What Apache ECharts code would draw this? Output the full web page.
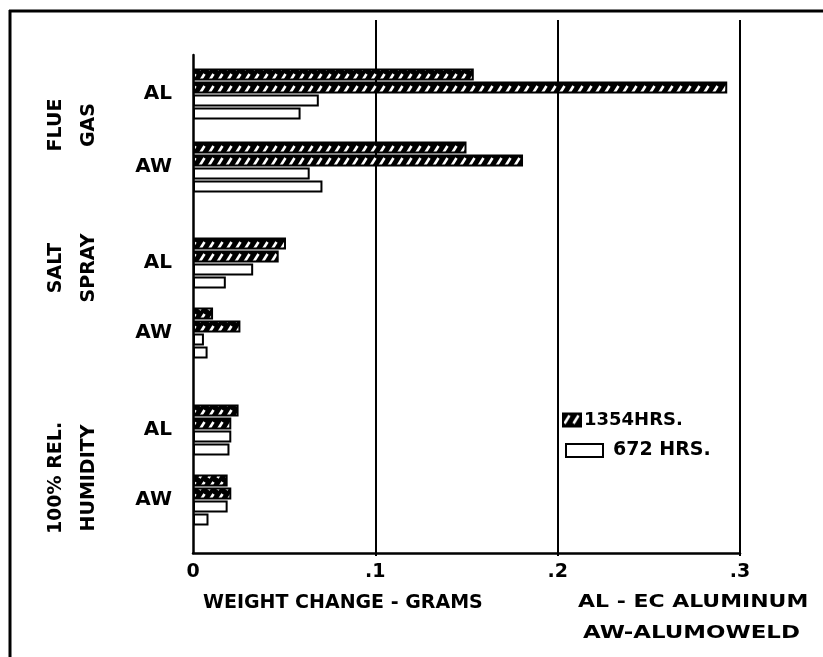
<!DOCTYPE html>
<html><head><meta charset="utf-8">
<script src="https://cdn.jsdelivr.net/npm/echarts@6/dist/echarts.min.js"></script>
<style>html,body{margin:0;padding:0;background:#fff}#c{width:823px;height:657px}</style>
</head><body><div id="c"></div>
<script>
// ---- data ----
const environments = ['FLUE\nGAS', 'SALT\nSPRAY', '100% REL.\nHUMIDITY'];
const conductors = ['AL', 'AW'];
const xTickLabels = ['0', '.1', '.2', '.3'];
const seriesNames = ['1354HRS.', '672 HRS.'];
// order: FLUE AL, FLUE AW, SALT AL, SALT AW, HUMIDITY AL, HUMIDITY AW
const hrs1354a = [0.154, 0.150, 0.051, 0.011, 0.025, 0.019];
const hrs1354b = [0.293, 0.181, 0.047, 0.026, 0.021, 0.021];
const hrs672a  = [0.069, 0.064, 0.033, 0.006, 0.021, 0.019];
const hrs672b  = [0.059, 0.071, 0.018, 0.008, 0.020, 0.0085];
const xTitle = 'WEIGHT CHANGE - GRAMS';
const noteLines = ['AL - EC ALUMINUM', 'AW-ALUMOWELD'];

// ---- styling / layout ----
const FONT = '"DejaVu Sans", sans-serif';
function makeHatch() {
  const c = document.createElement('canvas');
  c.width = 9; c.height = 12;
  const g = c.getContext('2d');
  g.fillStyle = '#000'; g.fillRect(0, 0, 9, 12);
  g.strokeStyle = '#fff'; g.lineWidth = 2.6; g.lineCap = 'butt';
  g.beginPath(); g.moveTo(1.5, 10); g.lineTo(6.5, 2); g.stroke();
  return c;
}
const hatchFill = { image: makeHatch(), repeat: 'repeat' };
const hatchStyle = { color: hatchFill, borderColor: '#000', borderWidth: 2 };
const whiteStyle = { color: '#fff', borderColor: '#000', borderWidth: 2 };

const L = 193, W = 547;
const envGrids = [
  { top: 57.5, height: 146 },
  { top: 228, height: 140 },
  { top: 395, height: 140 }
];
const envLabelPos = [[73, 125], [73, 268], [73, 478]];

const grids = [
  { left: L, width: W, top: 20, height: 536 },   // gridlines
  { left: L, width: W, top: 55, height: 498 }    // axes
].concat(envGrids.map(g => ({ left: L, width: W, top: g.top, height: g.height })));

const xAxes = [
  { gridIndex: 0, type: 'value', min: 0, max: 0.3, interval: 0.1,
    axisLine: { show: false }, axisTick: { show: false }, axisLabel: { show: false },
    splitLine: { show: true, showMinLine: false, lineStyle: { color: '#000', width: 2 } } },
  { gridIndex: 1, type: 'value', min: 0, max: 0.3, interval: 0.1,
    axisLine: { show: true, onZero: false, lineStyle: { color: '#000', width: 2.5 } },
    axisTick: { show: false }, splitLine: { show: false },
    axisLabel: { margin: 10, color: '#000', fontFamily: FONT, fontWeight: 'bold', fontSize: 19,
      formatter: (v) => xTickLabels[Math.round(v * 10)] } }
];
const yAxes = [
  { gridIndex: 0, type: 'value', show: false },
  { gridIndex: 1, type: 'value', min: 0, max: 1,
    axisLine: { show: true, onZero: false, lineStyle: { color: '#000', width: 2.5 } },
    axisTick: { show: false }, axisLabel: { show: false }, splitLine: { show: false } }
];
const series = [];
envGrids.forEach((g, e) => {
  const gi = e + 2;
  xAxes.push({ gridIndex: gi, type: 'value', min: 0, max: 0.3, show: false });
  yAxes.push({ gridIndex: gi, type: 'category', data: conductors, inverse: true,
    axisLine: { show: false }, axisTick: { show: false }, splitLine: { show: false },
    axisLabel: { margin: 21, color: '#000', fontFamily: FONT, fontWeight: 'bold', fontSize: 20 } });
  const sl = (arr) => arr.slice(2 * e, 2 * e + 2);
  [[hrs1354a, 0], [hrs1354b, 0], [hrs672a, 1], [hrs672b, 1]].forEach(([arr, kind]) => {
    series.push({
      type: 'bar', name: seriesNames[kind], xAxisIndex: gi, yAxisIndex: gi,
      data: sl(arr), barWidth: 12, barGap: '8%', silent: true, animation: false,
      itemStyle: kind === 0 ? hatchStyle : whiteStyle
    });
  });
});

const legendText = { color: '#000', fontFamily: FONT, fontWeight: 'bold' };
const option = {
  backgroundColor: '#fff',
  animation: false,
  grid: grids,
  xAxis: xAxes,
  yAxis: yAxes,
  series: series,
  legend: [
    { data: [{ name: seriesNames[0], icon: 'rect', itemStyle: hatchStyle }], left: 562, top: 411,
      itemWidth: 18, itemHeight: 13, selectedMode: false, padding: 0,
      textStyle: Object.assign({ fontSize: 18, padding: [0, 0, 0, -2] }, legendText) },
    { data: [{ name: seriesNames[1], icon: 'rect', itemStyle: whiteStyle }], left: 565, top: 441,
      itemWidth: 37, itemHeight: 13, selectedMode: false, padding: 0,
      textStyle: Object.assign({ fontSize: 19, padding: [0, 0, 0, 5] }, legendText) }
  ],
  title: [
    { text: xTitle, left: 203, top: 594, padding: 0,
      textStyle: { color: '#000', fontFamily: FONT, fontWeight: 'bold', fontSize: 19 } }
  ],
  graphic: [
    { type: 'line', silent: true, shape: { x1: 9, y1: 11, x2: 823, y2: 11 }, style: { stroke: '#000', lineWidth: 3 } },
    { type: 'line', silent: true, shape: { x1: 10, y1: 10, x2: 10, y2: 657 }, style: { stroke: '#000', lineWidth: 3 } },
    { type: 'text', silent: true, x: 578, y: 602, scaleX: 1.22,
      style: { text: noteLines[0], fill: '#000', font: 'bold 18px ' + FONT, align: 'left', verticalAlign: 'middle' } },
    { type: 'text', silent: true, x: 583, y: 633, scaleX: 1.27,
      style: { text: noteLines[1], fill: '#000', font: 'bold 18px ' + FONT, align: 'left', verticalAlign: 'middle' } }
  ].concat(environments.map((t, i) => ({
    type: 'text', silent: true, x: envLabelPos[i][0], y: envLabelPos[i][1], rotation: Math.PI / 2,
    style: { text: t, fill: '#000', font: 'bold 19px ' + FONT, align: 'center', verticalAlign: 'middle', lineHeight: 33 }
  })))
};
const chart = echarts.init(document.getElementById('c'), null, { renderer: 'canvas' });
chart.setOption(option);
</script>
</body></html>
